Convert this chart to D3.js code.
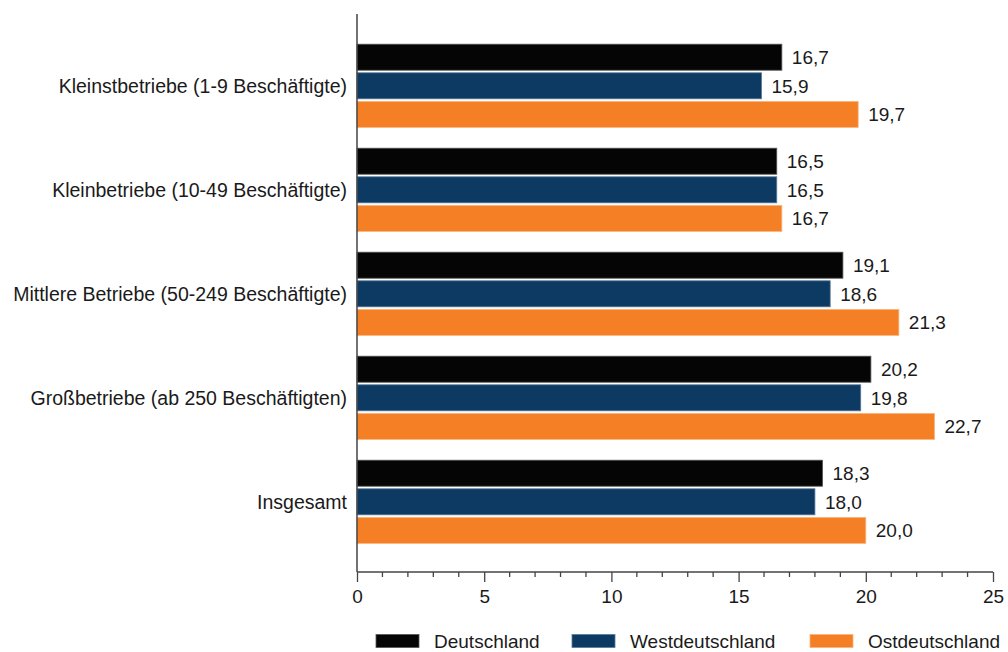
<!DOCTYPE html>
<html><head><meta charset="utf-8">
<script src="https://cdn.jsdelivr.net/npm/d3@7"></script>
<style>body{margin:0;background:#fff}text{font-family:"Liberation Sans",Arial,sans-serif;fill:#1a1a1a}</style>
</head><body><svg id="c" width="1008" height="652"></svg>
<script>
const categories = ["Kleinstbetriebe (1-9 Beschäftigte)","Kleinbetriebe (10-49 Beschäftigte)","Mittlere Betriebe (50-249 Beschäftigte)","Großbetriebe (ab 250 Beschäftigten)","Insgesamt"];
const seriesNames = ["Deutschland","Westdeutschland","Ostdeutschland"];
const deutschland = [16.7,16.5,19.1,20.2,18.3];
const westdeutschland = [15.9,16.5,18.6,19.8,18.0];
const ostdeutschland = [19.7,16.7,21.3,22.7,20.0];
const colors = ["#050505","#0c3a62","#f47f24"];
const strokes = ["#555555","#5a7a99","#f8b57f"];
const xTicks = [0,5,10,15,20,25];

const values = [deutschland, westdeutschland, ostdeutschland];
const svg = d3.select("#c");
const x = d3.scaleLinear().domain([0,25]).range([357,993]);
const y = d3.scaleBand().domain(categories).range([33.8,553.8]).paddingInner(0.2).paddingOuter(0.1);
const ys = d3.scaleBand().domain(seriesNames).range([0,y.bandwidth()]).paddingInner(0.09).paddingOuter(0);
const fmt = v => d3.format(".1f")(v).replace(".", ",");
const fs = 19;

categories.forEach((c,i)=>{
  const g = svg.append("g");
  seriesNames.forEach((s,j)=>{
    const v = values[j][i];
    g.append("rect").attr("x",x(0)).attr("y",y(c)+ys(s)).attr("width",x(v)-x(0)).attr("height",ys.bandwidth())
      .attr("fill",colors[j]).attr("stroke",strokes[j]).attr("stroke-width",0.8);
    g.append("text").attr("x",x(v)+10).attr("y",y(c)+ys(s)+ys.bandwidth()/2).attr("dy","0.36em")
      .attr("font-size",fs).text(fmt(v));
  });
  svg.append("text").attr("x",347).attr("y",y(c)+y.bandwidth()/2).attr("dy","0.36em").attr("text-anchor","end")
    .attr("font-size",19.5).text(c);
});

// axes
const axisColor = "#444";
svg.append("line").attr("x1",357).attr("x2",357).attr("y1",14).attr("y2",572).attr("stroke",axisColor).attr("stroke-width",1.5);
const xa = svg.append("g").attr("transform","translate(0,572)")
  .call(d3.axisBottom(x).tickValues(xTicks).tickSize(10).tickFormat(d=>d).tickPadding(8));
xa.select(".domain").attr("stroke",axisColor).attr("stroke-width",1.5).attr("d",`M${x(0)},0H${x(25)}`);
xa.selectAll(".tick line").attr("stroke",axisColor).attr("stroke-width",1.3);
xa.selectAll(".tick text").attr("font-size",fs).attr("fill","#1a1a1a").style("font-family","'Liberation Sans',Arial,sans-serif");
const minor = d3.range(0,26).filter(v=>v%5!==0);
svg.append("g").selectAll("line").data(minor).join("line")
  .attr("x1",d=>x(d)).attr("x2",d=>x(d)).attr("y1",572).attr("y2",577).attr("stroke",axisColor).attr("stroke-width",1.3);

// legend
const legX = [376,572,810];
seriesNames.forEach((s,j)=>{
  svg.append("rect").attr("x",legX[j]).attr("y",634.5).attr("width",43).attr("height",13).attr("fill",colors[j]).attr("stroke",strokes[j]).attr("stroke-width",0.8);
  svg.append("text").attr("x",legX[j]+58).attr("y",641).attr("dy","0.36em").attr("font-size",fs).text(s);
});
</script></body></html>
